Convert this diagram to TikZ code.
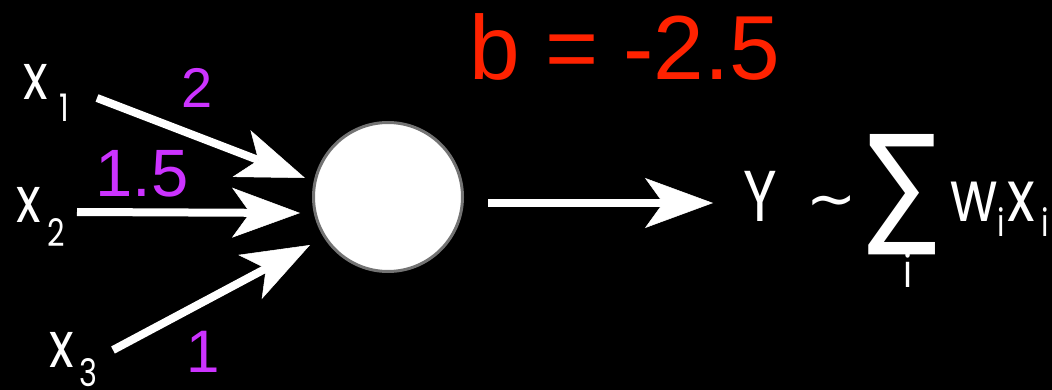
\documentclass[tikz,border=0pt]{standalone}
\usepackage{fontspec}
\setmainfont{Liberation Sans}
\newfontfamily\wf[FakeStretch=0.8]{Poppins}
\newfontfamily\dejavu{DejaVu Sans}
\usetikzlibrary{arrows.meta}
\definecolor{wpurple}{RGB}{204,51,255}
\definecolor{bred}{RGB}{255,34,0}
\definecolor{ringgray}{RGB}{115,115,115}
\begin{document}
\begin{tikzpicture}[x=1pt,y=-1pt,
  lbl/.style={text=white, inner sep=0pt, font=\wf\fontsize{64}{64}\selectfont},
  sub/.style={text=white, inner sep=0pt, font=\wf\fontsize{38}{38}\selectfont},
  wt/.style={text=wpurple, inner sep=0pt},
  fml/.style={text=white, inner sep=0pt, font=\wf\fontsize{72}{72}\selectfont},
  fsub/.style={text=white, inner sep=0pt, font=\wf\fontsize{38}{38}\selectfont},
  arr/.style={draw=white, line width=8pt, -{Stealth[length=68pt,width=50pt,inset=18pt,line width=0.5pt]}},
]
\fill[black] (0,0) rectangle (1052,390);
\useasboundingbox (0,0) rectangle (1052,390);

% neuron
\node[circle, fill=white, draw=ringgray, line width=3pt, minimum size=149pt, inner sep=0pt] (n) at (388,197) {};

% inputs
\node[lbl] (x1) at (36,82) {x};
\node[sub] (x1s) at (64,108) {1};
\node[lbl] (x2) at (29,205) {x};
\node[sub] (x2s) at (56,233) {2};
\node[lbl] (x3) at (62,350) {x};
\node[sub] (x3s) at (88,373) {3};

% weights
\node[wt, font=\fontsize{56}{56}\selectfont] (w1) at (197,88) {2};
\node[wt, font=\fontsize{67}{67}\selectfont] (w2) at (142,174) {1.5};
\node[wt, font=\fontsize{60}{60}\selectfont] (w3) at (203,352) {1};

% bias
\node[text=bred, inner sep=0pt, font=\fontsize{91}{91}\selectfont, anchor=base] (b) at (625,80) {b = -2.5};

% arrows
\coordinate (s1) at (97,98);
\coordinate (t1) at (305,178);
\coordinate (s2) at (77,212);
\coordinate (t2) at (300,213);
\coordinate (s3) at (113,350);
\coordinate (t3) at (310,245);
\coordinate (o1) at (488,203);
\coordinate (o2) at (713,203);
\draw[arr] (s1) -- (t1);
\draw[arr] (s2) -- (t2);
\draw[arr] (s3) -- (t3);
\draw[arr] (o1) -- (o2);

% output formula
\node[fml, anchor=base west] (Y) at (743,222) {Y};
\node[text=white, inner sep=0pt, font=\dejavu\fontsize{60}{60}\selectfont] (tl) at (832,208) {∼};
\node[text=white, inner sep=0pt] (sig) at (903,195) {\resizebox{70pt}{95pt}{\dejavu ∑}};
\node[fsub, font=\wf\fontsize{46}{46}\selectfont] (si) at (908,270) {i};
\node[fml, anchor=base west] (w) at (950,222) {w};
\node[fsub] (wi) at (1001,222) {i};
\node[fml, anchor=base west] (xx) at (1007,222) {x};
\node[fsub] (xi) at (1045,222) {i};
\end{tikzpicture}
\end{document}
